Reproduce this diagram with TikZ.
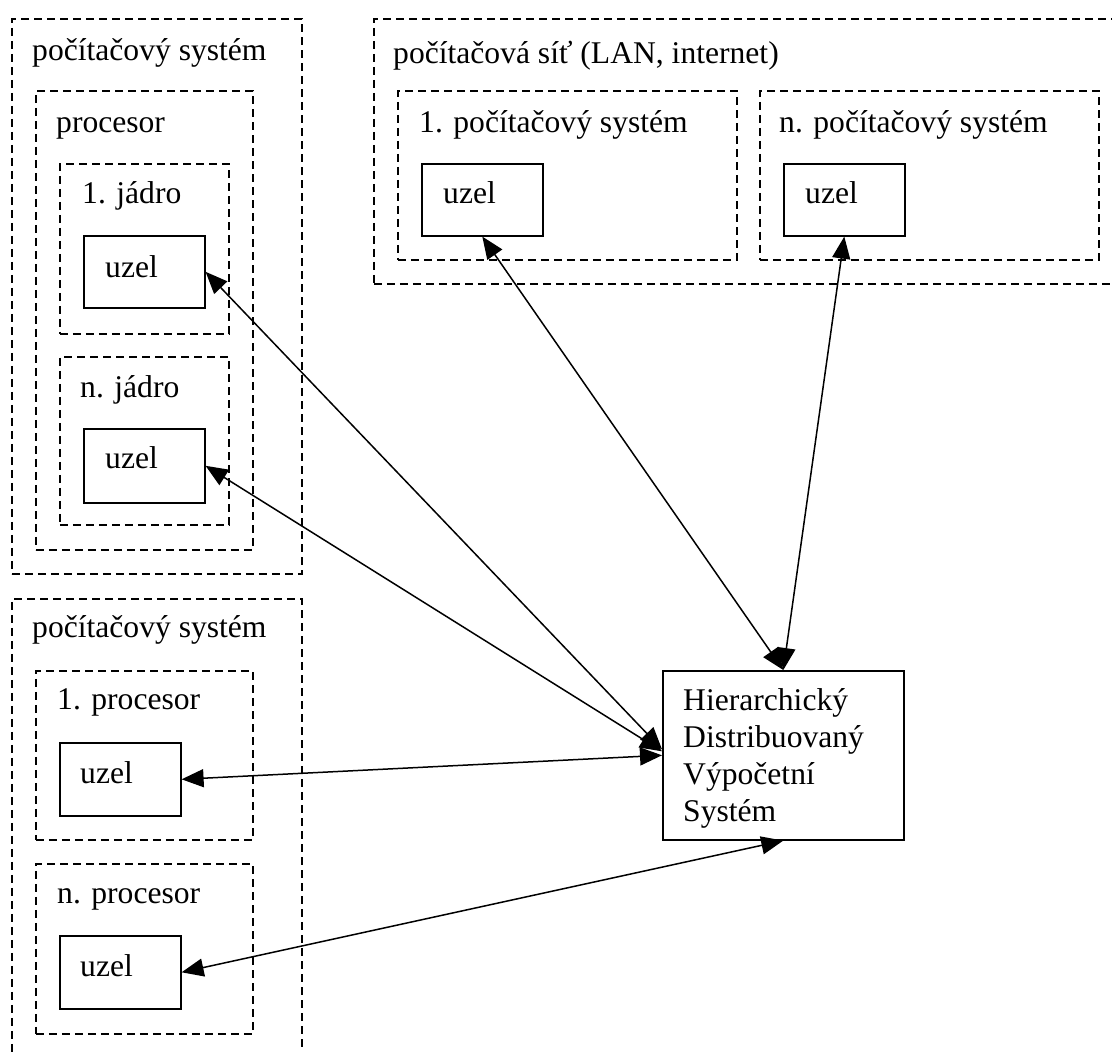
\documentclass[tikz,border=0pt]{standalone}
\usepackage{fontspec}
\setmainfont{Liberation Serif}
\usetikzlibrary{arrows.meta,calc}
\begin{document}
\begin{tikzpicture}[x=1pt,y=-1pt,
  dbox/.style={draw, dash pattern=on 8pt off 5pt, line width=1.6pt, rectangle, inner sep=0pt, anchor=north west},
  sbox/.style={draw, line width=1.6pt, rectangle, inner sep=0pt, anchor=north west},
  lbl/.style={anchor=base west, inner sep=0pt, font=\fontsize{31.6}{37}\selectfont},
  link/.style={line width=1.5pt, {Triangle[length=22pt,width=18pt]}-{Triangle[length=22pt,width=18pt]}}]
\clip (0,0) rectangle (1112,1052);

% first computer system: one processor with several cores
\node[dbox, minimum width=290pt, minimum height=555pt] (sysA) at (11,18) {};
\node[lbl] (sysAl) at (32,60) {počítačový systém};
\node[dbox, minimum width=217pt, minimum height=459pt] (proc) at (35,90) {};
\node[lbl] (procl) at (56,132) {procesor};
\node[dbox, minimum width=169pt, minimum height=170pt] (core1) at (59,163) {};
\node[lbl] (core1l) at (82,203) {1. jádro};
\node[sbox, minimum width=121pt, minimum height=72pt] (uA) at (83,235) {};
\node[lbl] (uAl) at (105,277) {uzel};
\node[dbox, minimum width=169pt, minimum height=168pt] (core2) at (59,356) {};
\node[lbl] (core2l) at (80,397) {n. jádro};
\node[sbox, minimum width=121pt, minimum height=74pt] (uB) at (83,428) {};
\node[lbl] (uBl) at (105,468) {uzel};

% second computer system: several processors
\node[dbox, minimum width=290pt, minimum height=470pt] (sysB) at (11,598) {};
\node[lbl] (sysBl) at (32,637) {počítačový systém};
\node[dbox, minimum width=217pt, minimum height=169pt] (cpu1) at (35,670) {};
\node[lbl] (cpu1l) at (57,709) {1. procesor};
\node[sbox, minimum width=121pt, minimum height=73pt] (uC) at (59,742) {};
\node[lbl] (uCl) at (80,783) {uzel};
\node[dbox, minimum width=217pt, minimum height=170pt] (cpu2) at (35,863) {};
\node[lbl] (cpu2l) at (57,903) {n. procesor};
\node[sbox, minimum width=121pt, minimum height=73pt] (uD) at (59,935) {};
\node[lbl] (uDl) at (80,976) {uzel};

% computer network
\node[dbox, minimum width=760pt, minimum height=265pt] (net) at (373,18) {};
\node[lbl] (netl) at (393,63) {počítačová síť (LAN, internet)};
\node[dbox, minimum width=339pt, minimum height=169pt] (pc1) at (397,90) {};
\node[lbl] (pc1l) at (419,132) {1. počítačový systém};
\node[sbox, minimum width=121pt, minimum height=72pt] (uE) at (421,163) {};
\node[lbl] (uEl) at (443,203) {uzel};
\node[dbox, minimum width=339pt, minimum height=169pt] (pcn) at (759,90) {};
\node[lbl] (pcnl) at (779,132) {n. počítačový systém};
\node[sbox, minimum width=121pt, minimum height=72pt] (uF) at (783,163) {};
\node[lbl] (uFl) at (805,203) {uzel};

% central system
\node[sbox, minimum width=241pt, minimum height=169pt] (hd) at (662,670) {};
\node[lbl] (hd1) at (683,710) {Hierarchický};
\node[lbl] (hd2) at (683,747) {Distribuovaný};
\node[lbl] (hd3) at (683,784) {Výpočetní};
\node[lbl] (hd4) at (683,821) {Systém};

% links
\draw[link] (uA.east) -- ($(hd.west)+(0,-6)$);
\draw[link] (uB.east) -- ($(hd.west)+(0,-4)$);
\draw[link] (uC.east) -- (hd.west);
\draw[link] (uD.east) -- (hd.south);
\draw[link] (uE.south) -- (hd.north);
\draw[link] (uF.south) -- (hd.north);
\end{tikzpicture}
\end{document}
